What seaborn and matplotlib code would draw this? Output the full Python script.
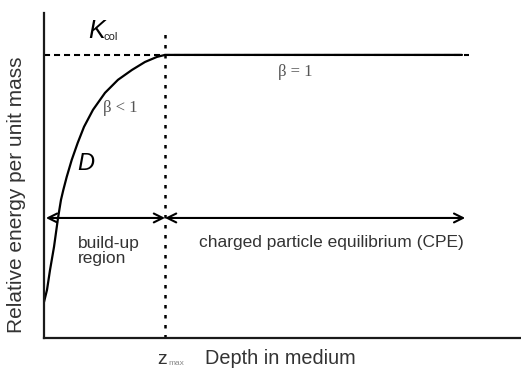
import matplotlib
matplotlib.use("Agg")
import matplotlib.pyplot as plt
import seaborn as sns
import pandas as pd

# Build-up curve: depth (arbitrary units) vs relative energy per unit mass
depth = [0.000, 0.063, 0.126, 0.210, 0.294, 0.356, 0.405, 0.476, 0.581,
         0.706, 0.839, 1.027, 1.279, 1.551, 1.845, 2.117, 2.369, 2.537, 8.763]
dose = [0.127, 0.170, 0.240, 0.322, 0.424, 0.488, 0.523, 0.569, 0.629,
        0.689, 0.746, 0.806, 0.866, 0.912, 0.947, 0.975, 0.993, 1.000, 1.000]

k_col = 1.0          # collision kerma level
z_max = 2.537        # depth of dose maximum
cpe_end = 8.83       # end of CPE arrow
kerma_end = 8.9      # end of kerma line
arrow_level = 0.424  # height of region arrows

sns.set_style("white")
plt.rcParams["font.family"] = ["Liberation Sans", "DejaVu Sans"]

fig = plt.figure(figsize=(5.21, 3.75), dpi=100)
ax = fig.add_axes([44 / 521, 37 / 375, 477 / 521, 325 / 375])
ax.set_xlim(0, 10)
ax.set_ylim(0, 1.148)

txt = "#333333"
serif = ["Liberation Serif", "DejaVu Serif"]

# Kerma level (dashed)
ax.plot([0, kerma_end], [k_col, k_col], color="black", lw=1.5,
        ls=(0, (2.9, 1.9)))

# Dose curve
df = pd.DataFrame({"depth": depth, "dose": dose})
sns.lineplot(data=df, x="depth", y="dose", color="black", lw=1.6,
             sort=False, estimator=None, ax=ax)

# z_max marker (dotted vertical)
ax.plot([z_max, z_max], [0, 1.085], color="black", lw=1.8,
        ls=(0, (1.4, 2.6)), clip_on=False)

# Region arrows
arrow_kw = dict(arrowstyle="<->", color="black", lw=1.5,
                mutation_scale=16, shrinkA=0, shrinkB=0)
ax.annotate("", xy=(z_max, arrow_level), xytext=(0.04, arrow_level),
            arrowprops=arrow_kw)
ax.annotate("", xy=(cpe_end, arrow_level), xytext=(z_max, arrow_level),
            arrowprops=arrow_kw)

# Curve and level labels
ax.text(0.92, 1.060, "K", fontsize=18, style="italic", color="black",
        ha="left", va="baseline")
ax.text(1.237, 1.053, "col", fontsize=8, color="#222222",
        ha="left", va="baseline")
ax.text(0.69, 0.615, "D", fontsize=17, style="italic", color="black",
        ha="left", va="center")
ax.text(1.24, 0.813, "β < 1", fontsize=12, color="#555555",
        family=serif, ha="left", va="center")
ax.text(4.91, 0.94, "β = 1", fontsize=12, color="#555555",
        family=serif, ha="left", va="center")

# Region labels
ax.text(0.71, 0.307, "build-up\nregion", fontsize=12.5, color=txt,
        ha="left", va="center", linespacing=1.05)
ax.text(3.25, 0.336, "charged particle equilibrium (CPE)", fontsize=12.5,
        color=txt, ha="left", va="center")

# Axis annotations
ax.text(2.38, -0.092, "z", fontsize=14, color=txt,
        ha="left", va="baseline", clip_on=False)
ax.text(2.6, -0.097, "max", fontsize=6, color="#888888",
        ha="left", va="baseline", clip_on=False)
ax.text(3.375, -0.092, "Depth in medium", fontsize=14.3, color=txt,
        ha="left", va="baseline", clip_on=False)
fig.text(17 / 521, 1 - 195 / 375, "Relative energy per unit mass",
         fontsize=15, color=txt, rotation=90, ha="center", va="center")

# Axes frame: left and bottom only, no ticks
for side in ("top", "right"):
    ax.spines[side].set_visible(False)
for side in ("left", "bottom"):
    ax.spines[side].set_color("#1a1a1a")
    ax.spines[side].set_linewidth(1.6)
ax.set_xticks([])
ax.set_yticks([])
ax.set_xlabel("")
ax.set_ylabel("")

fig.savefig("out.png", dpi=100)
